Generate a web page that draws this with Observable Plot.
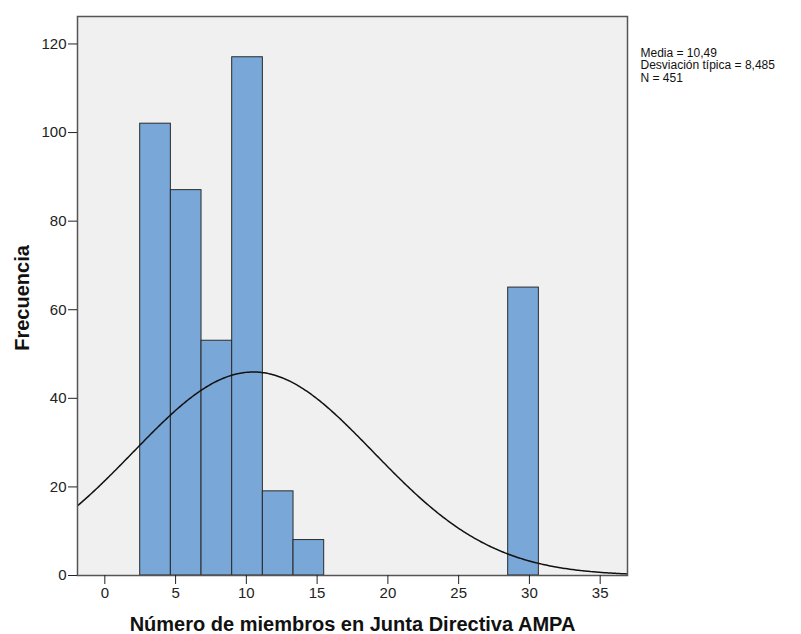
<!DOCTYPE html>
<html><head><meta charset="utf-8">
<script src="https://cdn.jsdelivr.net/npm/d3@7"></script>
<script src="https://cdn.jsdelivr.net/npm/@observablehq/plot@0.6"></script>
<style>
body{margin:0;background:#fff;}
g[aria-label="stats"] text{letter-spacing:0.7px;}
</style>
</head><body><div id="chart"></div>
<script>
// Histogram bins (lower / upper edges) and frequencies
const binStart = [2.5, 4.667, 6.833, 9.0, 11.167, 13.333, 28.5];
const binEnd   = [4.667, 6.833, 9.0, 11.167, 13.333, 15.5, 30.667];
const counts   = [102, 87, 53, 117, 19, 8, 65];
const xTicks = [0, 5, 10, 15, 20, 25, 30, 35];
const yTicks = [0, 20, 40, 60, 80, 100, 120];
const statLabels = ["Media = 10,49", "Desviación típica = 8,485", "N = 451"];
const xLabel = "Número de miembros en Junta Directiva AMPA";
const yLabel = "Frecuencia";
// Fitted normal curve parameters shown on the chart
const mean = 10.49, sd = 8.485, n = 451, binWidth = 13 / 6;

const xDomain = [-1.93, 36.93];
const bars = counts.map((c, i) => ({x1: binStart[i], x2: binEnd[i], y: c}));
const curve = d3.range(xDomain[0], xDomain[1] + 0.05, 0.1).map(x => {
  const z = (x - mean) / sd;
  return {x, y: n * binWidth / (sd * Math.sqrt(2 * Math.PI)) * Math.exp(-0.5 * z * z)};
});

const chart = Plot.plot({
  width: 801, height: 634,
  marginLeft: 77, marginRight: 174, marginTop: 16, marginBottom: 59,
  style: {fontFamily: "'Liberation Sans', Arial, sans-serif", fontSize: "15px", color: "#222", background: "#fff"},
  x: {domain: xDomain, label: null},
  y: {domain: [0, 126.2], label: null},
  marks: [
    Plot.frame({fill: "#f0f0f0"}),
    Plot.rectY(bars, {x1: "x1", x2: "x2", y: "y", fill: "#79a8d8", stroke: "#2a2a2a", strokeWidth: 1, insetLeft: 0, insetRight: 0}),
    Plot.line(curve, {x: "x", y: "y", stroke: "#111", strokeWidth: 1.5, clip: true}),
    Plot.frame({stroke: "#555", strokeWidth: 1.5}),
    Plot.axisX({ticks: xTicks, tickSize: 9, tickPadding: 3, fontSize: 15, label: null}),
    Plot.axisY({ticks: yTicks, tickSize: 9, tickPadding: 2, fontSize: 15, label: null}),
    Plot.text([xLabel], {frameAnchor: "bottom", dy: 49, textAnchor: "middle", lineAnchor: "middle", fontWeight: "bold", fontSize: 20, fill: "#111"}),
    Plot.text([yLabel], {frameAnchor: "left", dx: -55, dy: 2, rotate: -90, textAnchor: "middle", lineAnchor: "middle", fontWeight: "bold", fontSize: 20, fill: "#111"}),
    Plot.text([statLabels.join("\n")], {ariaLabel: "stats", frameAnchor: "top-right", dx: 13, dy: 31, textAnchor: "start", lineAnchor: "top", lineHeight: 1.06, fontSize: 12, fill: "#111"})
  ]
});
document.getElementById("chart").appendChild(chart);
</script>
</body></html>
